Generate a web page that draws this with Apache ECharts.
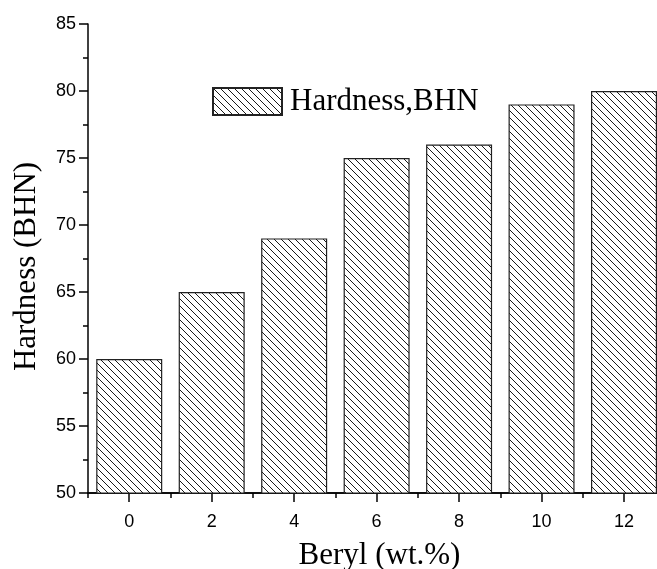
<!DOCTYPE html>
<html>
<head>
<meta charset="utf-8">
<script src="https://cdn.jsdelivr.net/npm/echarts@6/dist/echarts.min.js"></script>
<style>
  html, body { margin: 0; padding: 0; background: #fff; }
  #chart { width: 657px; height: 569px; }
</style>
</head>
<body>
<div id="chart"></div>
<script>
// data
var beryl = [0, 2, 4, 6, 8, 10, 12];
var hardness = [60, 65, 69, 75, 76, 79, 80];
var majorTicks = [0, 2, 4, 6, 8, 10, 12];
var minorTicks = [-1, 1, 3, 5, 7, 9, 11];

// hatch pattern "\\\"
var tile = document.createElement("canvas");
tile.width = 7;
tile.height = 7;
var ctx = tile.getContext("2d");
ctx.fillStyle = "#fff";
ctx.fillRect(0, 0, 7, 7);
ctx.strokeStyle = "#000";
ctx.lineWidth = 0.9;
ctx.beginPath();
ctx.moveTo(-1, -1);
ctx.lineTo(8, 8);
ctx.stroke();
var hatch = { image: tile, repeat: "repeat" };

var myChart = echarts.init(document.getElementById("chart"));

var option = {
  animation: false,
  grid: { left: 88, right: 0, top: 24, bottom: 76, outerBoundsMode: "none" },
  legend: {
    left: 207,
    top: 81,
    icon: "rect",
    itemWidth: 69,
    itemHeight: 27,
    textStyle: {
      fontFamily: "Liberation Serif",
      fontSize: 31,
      color: "#000",
      padding: [0, 0, 0, 3],
    },
    data: ["Hardness,BHN"],
  },
  xAxis: [
    {
      type: "value",
      min: -1,
      max: 12.8,
      name: "Beryl (wt.%)",
      nameLocation: "middle",
      nameGap: 47,
      nameTextStyle: {
        fontFamily: "Liberation Serif",
        fontSize: 31,
        color: "#000",
        padding: [0, 0, 0, 14],
      },
      axisLine: { show: true, onZero: false, lineStyle: { color: "#000", width: 1.5 } },
      axisTick: { show: true, customValues: majorTicks, length: 9, lineStyle: { color: "#000", width: 1.5 } },
      axisLabel: {
        customValues: majorTicks,
        margin: 20,
        fontFamily: "Liberation Sans",
        fontSize: 18,
        color: "#000",
      },
      splitLine: { show: false },
    },
    {
      type: "value",
      min: -1,
      max: 12.8,
      position: "bottom",
      axisLine: { show: true, onZero: false, lineStyle: { color: "#000", width: 1.5 } },
      axisTick: { show: true, customValues: minorTicks, length: 5, lineStyle: { color: "#000", width: 1.5 } },
      axisLabel: { show: false },
      splitLine: { show: false },
    },
  ],
  yAxis: {
    type: "value",
    min: 50,
    max: 85,
    interval: 5,
    name: "Hardness (BHN)",
    nameLocation: "middle",
    nameGap: 46,
    nameTextStyle: {
      fontFamily: "Liberation Serif",
      fontSize: 31,
      color: "#000",
      padding: [0, 16, 0, 0],
    },
    axisLine: { show: true, onZero: false, lineStyle: { color: "#000", width: 1.5 } },
    axisTick: { show: true, length: 9, lineStyle: { color: "#000", width: 1.5 } },
    minorTick: { show: true, splitNumber: 2, length: 5, lineStyle: { color: "#000", width: 1.5 } },
    axisLabel: {
      margin: 12,
      fontFamily: "Liberation Sans",
      fontSize: 18,
      color: "#000",
    },
    splitLine: { show: false },
  },
  series: [
    {
      name: "Hardness,BHN",
      type: "bar",
      xAxisIndex: 0,
      barWidth: 66,
      data: beryl.map(function (x, i) {
        return [x, hardness[i]];
      }),
      itemStyle: {
        color: hatch,
        borderColor: "#222",
        borderWidth: 1.2,
      },
    },
  ],
};

option && myChart.setOption(option);
</script>
</body>
</html>
